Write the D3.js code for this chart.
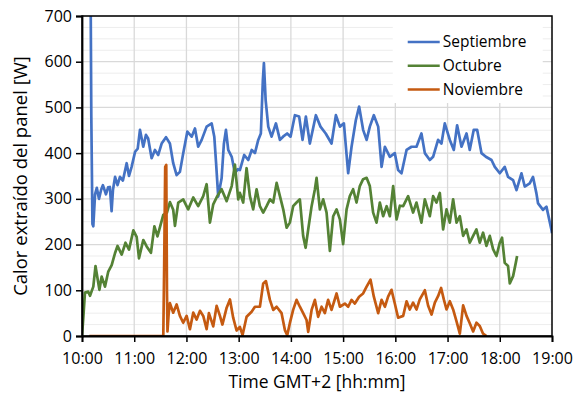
<!DOCTYPE html>
<html>
<head>
<meta charset="utf-8">
<script src="https://cdn.jsdelivr.net/npm/d3@7"></script>
<style>
  body { margin: 0; background: #fff; }
  text { font-family: "Open Sans", sans-serif; fill: #000; }
</style>
</head>
<body>
<svg id="chart" width="575" height="394"></svg>
<script>
// times are minutes after 10:00, values in W
const sepTime = [10, 10.7, 12, 13, 15, 17, 19.5, 22, 24, 27.5, 30, 32, 34, 35.6, 38, 40.8, 43.6, 47, 51.3, 54,
  57, 61, 64, 66.6, 70.4, 73.5, 76, 80, 83.8, 87.6, 91.5, 96.5, 101, 104.8, 108.7, 112.5, 116.3, 121, 126, 129.8,
  133.5, 137.5, 143.2, 149, 152, 154, 156.5, 160.4, 163, 165.4, 168, 172, 175.7, 179, 181.4, 186.4, 191, 195, 198.7, 202.5,
  205.5, 207.8, 209, 211, 214, 217.8, 222.8, 227.4, 231, 235.7, 239.6, 244.6, 249.5, 253.4, 257.2, 261.8, 268.7, 274, 280, 286.7,
  291.7, 296.3, 300.9, 305.8, 309.7, 314.6, 318.4, 323, 327, 330.7, 335.3, 340.3, 344.2, 348, 353.7, 359.4, 363.2, 367.1, 372.9, 378.6,
  384.3, 390, 393.9, 399.6, 403.4, 409.1, 413, 416.8, 422.6, 427.2, 431, 436, 441.8, 445.5, 450.1, 454, 459, 464, 470.5, 474.3,
  480, 485.7, 489.5, 495.3, 499.2, 504.9, 508.7, 514.4, 518.2, 522.1, 524, 529.7, 533.6, 539.4, 540];
const sepValue = [720, 480, 245, 240, 310, 324, 300, 320, 330, 310, 325, 326, 273, 320, 348, 330, 348, 340, 378, 350,
  370, 403, 410, 451, 414, 440, 432, 389, 407, 396, 421, 435, 421, 378, 352, 359, 400, 447, 436, 454,
  414, 429, 458, 465, 436, 380, 305, 345, 420, 451, 407, 392, 356, 365, 363, 396, 385, 407, 400, 429,
  443, 560, 597, 516, 458, 436, 465, 429, 436, 443, 436, 483, 480, 429, 480, 421, 483, 458, 443, 421,
  483, 458, 465, 356, 414, 472, 502, 451, 429, 458, 483, 458, 370, 414, 392, 400, 363, 356, 407, 414,
  414, 443, 400, 385, 392, 429, 421, 465, 429, 407, 461, 414, 443, 407, 451, 451, 400, 392, 385, 370,
  356, 370, 348, 341, 319, 356, 327, 334, 348, 312, 290, 276, 283, 232, 225];

const octTime = [0, 1.5, 3.4, 7.2, 9.2, 13, 15.5, 20, 22.6, 26.4, 30.2, 34.1, 37.9, 40.8, 45.6, 50, 54, 59, 62.8, 65.5,
  70.4, 74.3, 79.2, 83.2, 86.7, 93.4, 97.6, 101, 104.8, 106.8, 110.6, 116.3, 122, 127.8, 133.5, 139.3, 143.2, 147, 150.8, 155.4,
  160.4, 166.2, 172, 175.7, 179.5, 181.4, 185.2, 189.1, 192.9, 196.7, 200.6, 204.4, 208.2, 212.1, 215.9, 219.7, 223.6, 227.4, 231.2, 235.1,
  238.8, 242.6, 246.5, 250.3, 254.1, 256.9, 259.9, 263.8, 267.6, 269.5, 273.3, 277.1, 281, 284.8, 288.6, 292.5, 296.3, 300, 304, 307.7,
  311.5, 315.4, 319.2, 323, 327, 330.7, 334.5, 338.4, 342.2, 346, 350, 353.7, 357.5, 361.4, 365.2, 369, 374.7, 380.4, 384.3, 390,
  393.9, 399.6, 403.4, 407.3, 411.1, 414.9, 418.8, 422.6, 426.4, 430.3, 434.1, 437.9, 441.8, 445.5, 449.4, 453.2, 457, 460.8, 464.7, 468.5,
  472.3, 476.2, 480, 482.6, 485.7, 489.5, 491.5, 495.3, 498.4, 499.9];
const octValue = [0, 40, 95, 97, 88, 108, 153, 101, 130, 108, 141, 155, 181, 197, 178, 204, 189, 231, 217, 170,
  210, 196, 182, 240, 218, 265, 270, 293, 276, 241, 292, 299, 277, 303, 284, 306, 332, 248, 288, 306,
  321, 295, 328, 375, 299, 313, 292, 367, 306, 277, 321, 284, 270, 284, 299, 292, 335, 306, 277, 237,
  248, 284, 292, 299, 219, 193, 233, 284, 321, 346, 277, 299, 270, 186, 262, 277, 255, 201, 277, 306,
  321, 292, 328, 343, 346, 328, 270, 248, 292, 262, 284, 262, 328, 255, 285, 284, 306, 270, 292, 248,
  299, 262, 306, 292, 313, 233, 277, 248, 299, 248, 262, 219, 233, 204, 219, 233, 204, 226, 197, 219,
  190, 175, 204, 215, 160, 153, 115, 131, 160, 175];

const novTime = [8.4, 93.4, 94.4, 95.6, 96.8, 97.6, 98.2, 99.6, 101, 104.8, 108.7, 112.5, 116.3, 120.2, 124, 127.8, 131.7, 135.5, 139.3, 143.2,
  145.8, 150.8, 154.7, 158.5, 161.3, 166.2, 170, 173.7, 177.6, 181.4, 184.5, 189.1, 194.9, 198.7, 204.4, 208.2, 211.3, 215.9, 219.7, 223.6,
  229.3, 233.1, 235.8, 238.8, 242.6, 246.5, 250.3, 254.1, 258, 259.9, 263.8, 267.6, 271.3, 275.3, 279, 282.8, 286.7, 292.5, 296.3, 302,
  305.8, 309.7, 313.5, 318.4, 323, 327, 331.5, 335.3, 340.3, 344.2, 348, 351.7, 355.6, 359.4, 363.2, 369, 372.9, 376.6, 380.4, 384.3,
  388.1, 393.9, 397.7, 401.6, 405.4, 409.1, 412.6, 415.7, 418.8, 422.6, 426.4, 430.3, 434.1, 437.9, 441.8, 445.5, 449.4, 453.2, 457, 460.8,
  464.7];
const novValue = [0, 0, 150, 370, 374, 100, 10, 50, 72, 51, 69, 44, 29, 44, 15, 51, 36, 55, 44, 15,
  50, 21, 66, 44, 25, 62, 80, 40, 12, 20, 2, 42, 53, 64, 64, 115, 120, 79, 57, 64,
  50, 13, 2, 28, 57, 79, 64, 50, 35, 9, 57, 79, 42, 64, 50, 79, 57, 93, 64, 71,
  64, 79, 71, 86, 93, 108, 123, 86, 50, 79, 64, 86, 101, 71, 40, 44, 76, 58, 73, 58,
  80, 100, 66, 47, 73, 87, 105, 80, 58, 76, 58, 32, 5, 67, 44, 28, 10, 29, 22, 5,
  0];

const seriesNames = ["Septiembre", "Octubre", "Noviembre"];
const seriesColors = ["#4472C4", "#548235", "#C55A11"];
const xTickLabels = ["10:00", "11:00", "12:00", "13:00", "14:00", "15:00", "16:00", "17:00", "18:00", "19:00"];
const yTicks = [0, 100, 200, 300, 400, 500, 600, 700];

const series = [
  d3.zip(sepTime, sepValue),
  d3.zip(octTime, octValue),
  d3.zip(novTime, novValue)
];

const svg = d3.select("#chart");
const margin = { top: 16, right: 23, bottom: 58, left: 82 };
const width = 575 - margin.left - margin.right;
const height = 394 - margin.top - margin.bottom;

const g = svg.append("g").attr("transform", `translate(${margin.left},${margin.top})`);

const x = d3.scaleLinear().domain([0, 540]).range([0, width]);
const y = d3.scaleLinear().domain([0, 700]).range([height, 0]);

// minor horizontal grid every 25 W
g.append("g")
  .selectAll("line")
  .data(d3.range(25, 700, 25).filter(v => v % 100 !== 0))
  .join("line")
  .attr("x1", 0).attr("x2", width)
  .attr("y1", d => y(d)).attr("y2", d => y(d))
  .attr("stroke", "#EDEDED").attr("stroke-width", 1);

// major grid
g.append("g")
  .selectAll("line")
  .data(yTicks.slice(1))
  .join("line")
  .attr("x1", 0).attr("x2", width)
  .attr("y1", d => y(d)).attr("y2", d => y(d))
  .attr("stroke", "#D9D9D9").attr("stroke-width", 1.3);

g.append("g")
  .selectAll("line")
  .data(d3.range(60, 540, 60))
  .join("line")
  .attr("x1", d => x(d)).attr("x2", d => x(d))
  .attr("y1", 0).attr("y2", height)
  .attr("stroke", "#D9D9D9").attr("stroke-width", 1.3);

// legend background hides the grid behind it
const legend = g.append("g").attr("transform", `translate(${x(357)},0)`);
legend.append("rect")
  .attr("x", 0).attr("y", 1).attr("width", 150).attr("height", 86)
  .attr("fill", "#fff");

// lines
g.append("clipPath").attr("id", "plot-clip")
  .append("rect").attr("width", width).attr("height", height);

const line = d3.line()
  .x(d => x(d[0]))
  .y(d => y(d[1]));

g.append("g")
  .attr("clip-path", "url(#plot-clip)")
  .selectAll("path")
  .data(series)
  .join("path")
  .attr("d", line)
  .attr("fill", "none")
  .attr("stroke", (d, i) => seriesColors[i])
  .attr("stroke-width", 2.7)
  .attr("stroke-linejoin", "round");

// frame
g.append("rect")
  .attr("width", width).attr("height", height)
  .attr("fill", "none").attr("stroke", "#000").attr("stroke-width", 1.5);

// axes
const xAxis = g.append("g")
  .attr("transform", `translate(0,${height})`)
  .call(d3.axisBottom(x)
    .tickValues(d3.range(0, 541, 60))
    .tickFormat((d, i) => xTickLabels[i])
    .tickSize(6).tickPadding(11));

const yAxis = g.append("g")
  .call(d3.axisLeft(y)
    .tickValues(yTicks)
    .tickSize(6).tickPadding(4));

[xAxis, yAxis].forEach(a => {
  a.select(".domain").attr("stroke", "#000").attr("stroke-width", 1.8);
  a.selectAll(".tick line").attr("stroke", "#000").attr("stroke-width", 1.5);
  a.selectAll(".tick text")
    .style("font-family", "'Open Sans', sans-serif")
    .style("font-size", "16px")
    .attr("fill", "#000");
});

// axis titles
svg.append("text")
  .attr("x", margin.left + width / 2)
  .attr("y", 388)
  .attr("text-anchor", "middle")
  .style("font-size", "17.5px")
  .text("Time GMT+2 [hh:mm]");

svg.append("text")
  .attr("transform", `translate(27,${margin.top + height / 2}) rotate(-90)`)
  .attr("text-anchor", "middle")
  .style("font-size", "18.5px")
  .text("Calor extraído del panel [W]");

// legend items
const items = legend.selectAll("g.item")
  .data(seriesNames)
  .join("g")
  .attr("class", "item")
  .attr("transform", (d, i) => `translate(0,${26 + i * 23.7})`);

items.append("line")
  .attr("x1", 15).attr("x2", 47)
  .attr("y1", 0).attr("y2", 0)
  .attr("stroke", (d, i) => seriesColors[i])
  .attr("stroke-width", 2.5);

items.append("text")
  .attr("x", 50).attr("y", 0)
  .attr("dy", "0.35em")
  .style("font-size", "15.5px")
  .text(d => d);
</script>
</body>
</html>
